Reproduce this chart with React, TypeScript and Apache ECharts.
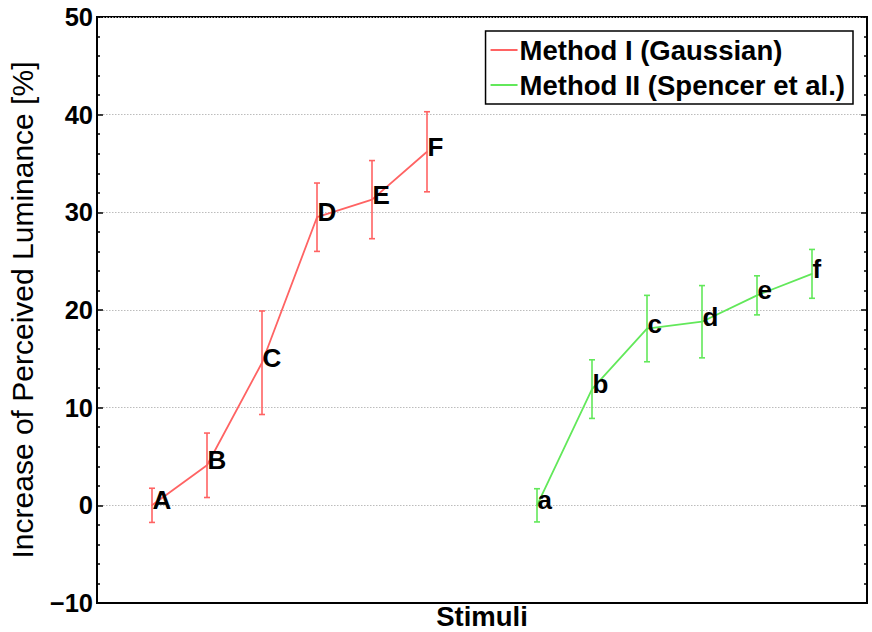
import React, { useEffect, useRef } from "react";
import * as echarts from "echarts";

const redNames = ["A", "B", "C", "D", "E", "F"];
const redX = [1, 2, 3, 4, 5, 6];
const redValues = [0.0, 4.1, 14.6, 29.5, 31.3, 36.2];
const redErrors = [1.75, 3.3, 5.3, 3.5, 4.0, 4.1];

const greenNames = ["a", "b", "c", "d", "e", "f"];
const greenX = [8, 9, 10, 11, 12, 13];
const greenValues = [0.0, 11.9, 18.1, 18.8, 21.5, 23.7];
const greenErrors = [1.7, 3.0, 3.4, 3.7, 2.0, 2.5];

const seriesNames = ["Method I (Gaussian)", "Method II (Spencer et al.)"];
const RED = "#ff6363";
const GREEN = "#62e85a";
const FONT = "'Liberation Sans', Arial, Helvetica, sans-serif";

function errorSeries(xs: number[], vals: number[], errs: number[], color: string) {
  return {
    type: "custom",
    silent: true,
    z: 3,
    data: xs.map((x, i) => [x, vals[i] - errs[i], vals[i] + errs[i]]),
    encode: { x: 0, y: [1, 2] },
    renderItem: (params: any, api: any) => {
      const x = api.value(0);
      const lo = api.coord([x, api.value(1)]);
      const hi = api.coord([x, api.value(2)]);
      const hw = 3;
      const style = { stroke: color, lineWidth: 1.6 };
      return {
        type: "group",
        children: [
          { type: "line", shape: { x1: lo[0], y1: lo[1], x2: hi[0], y2: hi[1] }, style },
          { type: "line", shape: { x1: lo[0] - hw, y1: lo[1], x2: lo[0] + hw, y2: lo[1] }, style },
          { type: "line", shape: { x1: hi[0] - hw, y1: hi[1], x2: hi[0] + hw, y2: hi[1] }, style },
        ],
      };
    },
  };
}

function lineSeries(name: string, xs: number[], vals: number[], names: string[], color: string) {
  return {
    type: "line",
    name,
    z: 4,
    data: xs.map((x, i) => ({ value: [x, vals[i]], name: names[i] })),
    symbol: "circle",
    symbolSize: 1,
    itemStyle: { color },
    lineStyle: { color, width: 1.8 },
    label: {
      show: true,
      position: "right",
      distance: 0,
      offset: [0, -5],
      formatter: "{b}",
      color: "#000",
      fontSize: 26,
      fontWeight: "bold",
      fontFamily: FONT,
    },
  };
}

export default function App() {
  const ref = useRef<HTMLDivElement>(null);
  useEffect(() => {
    if (!ref.current) return;
    const chart = echarts.init(ref.current, undefined, { renderer: "svg" });
    const yCommon = {
      type: "value",
      min: -10,
      max: 50,
      interval: 10,
      splitLine: { show: false },
      axisLine: { show: true, lineStyle: { color: "#000", width: 2 } },
      axisTick: { show: true, inside: true, length: 6, lineStyle: { color: "#000", width: 1.5 } },
      minorTick: { show: true, splitNumber: 5, length: 3, lineStyle: { color: "#000", width: 1.5 } },
    };
    chart.setOption({
      animation: false,
      backgroundColor: "#fff",
      textStyle: { fontFamily: FONT },
      grid: {
        left: 97,
        right: 5,
        top: 17,
        bottom: 29,
        containLabel: false,
        outerBoundsMode: "none",
        show: true,
        borderColor: "#000",
        borderWidth: 2,
        backgroundColor: "transparent",
      },
      legend: {
        data: seriesNames,
        orient: "vertical",
        right: 19,
        top: 31,
        padding: [4, 8, 4, 5],
        itemGap: 5,
        itemWidth: 27,
        itemHeight: 2,
        icon: "rect",
        borderColor: "#000",
        borderWidth: 1.5,
        backgroundColor: "#fff",
        textStyle: {
          fontSize: 27.5,
          fontWeight: "bold",
          color: "#000",
          fontFamily: FONT,
          lineHeight: 30,
          padding: [0, 0, 0, -3],
        },
      },
      xAxis: {
        type: "value",
        min: 0,
        max: 14,
        name: "Stimuli",
        nameLocation: "middle",
        nameGap: 0,
        nameTextStyle: {
          fontSize: 27.5,
          lineHeight: 26,
          fontWeight: "bold",
          color: "#000",
          fontFamily: FONT,
          verticalAlign: "top",
        },
        axisLine: { show: true, onZero: false, lineStyle: { color: "#000", width: 2 } },
        axisTick: { show: false },
        axisLabel: { show: false },
        splitLine: { show: false },
      },
      yAxis: [
        {
          ...yCommon,
          position: "left",
          name: "Increase of Perceived Luminance [%]",
          nameLocation: "middle",
          nameGap: 60,
          nameTextStyle: { fontSize: 30, color: "#000", fontFamily: FONT },
          axisLabel: { show: true, margin: 4, fontSize: 25.5, fontWeight: "bold", color: "#000", fontFamily: FONT,
            formatter: (v: number) => (v < 0 ? "\u2212" + Math.abs(v) : String(v)) },
          splitLine: { show: true, lineStyle: { color: "#bcbcbc", type: [1.5, 1.5], width: 1 } },
        },
        {
          ...yCommon,
          position: "right",
          axisLabel: { show: false },
        },
      ],
      series: [
        lineSeries(seriesNames[0], redX, redValues, redNames, RED),
        lineSeries(seriesNames[1], greenX, greenValues, greenNames, GREEN),
        errorSeries(redX, redValues, redErrors, RED),
        errorSeries(greenX, greenValues, greenErrors, GREEN),
      ],
    });
    return () => chart.dispose();
  }, []);
  return (
    <div
      ref={ref}
      style={{ position: "fixed", left: 0, top: 0, width: 872, height: 632, background: "#fff" }}
    />
  );
}
